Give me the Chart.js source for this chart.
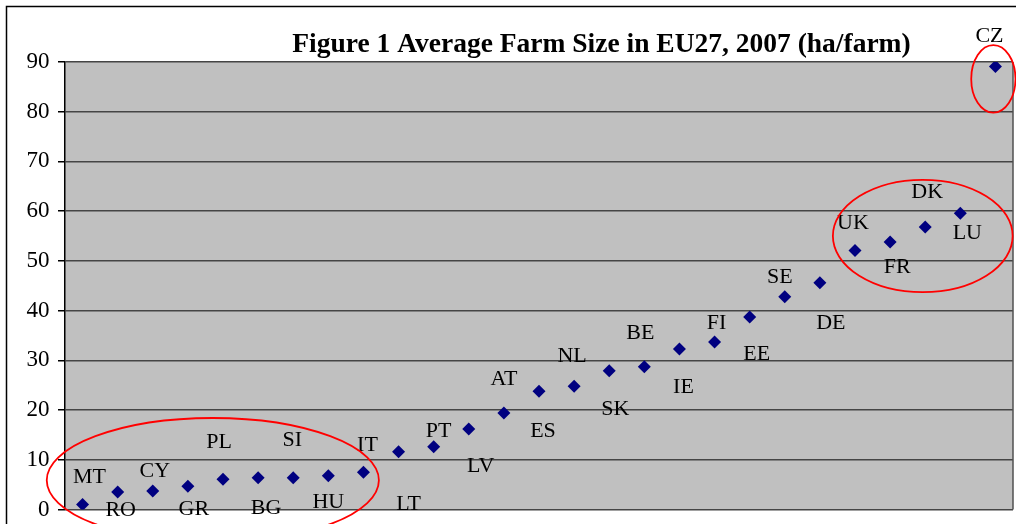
<!DOCTYPE html>
<html>
<head>
<meta charset="utf-8">
<script src="https://cdn.jsdelivr.net/npm/chart.js@4.4.1/dist/chart.umd.min.js"></script>
<style>
    html, body { margin: 0; padding: 0; background: #fff; }
    #wrap { width: 1016px; height: 524px; position: relative; }
</style>
</head>
<body>
<div id="wrap"><canvas id="myChart"></canvas></div>
<script>
// country codes, sorted by average farm size
const countries = ['MT', 'RO', 'CY', 'GR', 'PL', 'BG', 'SI', 'HU', 'IT', 'LT', 'PT', 'LV', 'AT', 'ES',
    'NL', 'SK', 'BE', 'IE', 'FI', 'EE', 'SE', 'DE', 'UK', 'FR', 'DK', 'LU', 'CZ'];
// ha per farm, 2007
const farmSize = [1.0, 3.5, 3.7, 4.7, 6.1, 6.4, 6.4, 6.8, 7.5, 11.6, 12.6, 16.2, 19.4, 23.8,
    24.8, 27.9, 28.7, 32.3, 33.7, 38.7, 42.8, 45.6, 52.1, 53.8, 56.8, 59.6, 89.1];

const titleText = 'Figure 1 Average Farm Size in EU27, 2007 (ha/farm)';

// where each country label sits relative to its point (px)
const labelOffsets = [
    [7, -27], [3, 18], [2, -20], [6, 23], [-4, -37], [8, 31], [-1, -37], [0, 27], [4, -27],
    [10, 52], [5, -16], [12, 37], [0, -34], [4, 40], [-2, -30], [6, 38], [-4, -34], [4, 38],
    [2, -19], [7, 37], [-5, -19], [11, 40], [-2, -27], [7, 25], [2, -35], [7, 20], [-6, -30]
];

// red highlight ellipses, in data units: [centre index, centre value, radius in index, radius in value]
const highlightGroups = [
    [3.71, 5.9, 4.73, 12.5],
    [23.93, 55.0, 2.56, 11.3],
    [25.94, 86.6, 0.63, 6.8]
];

const serif = '"Liberation Serif", "Times New Roman", serif';

const decorPlugin = {
    id: 'decor',
    beforeDraw(chart) {
        const { ctx, chartArea } = chart;
        ctx.save();
        // grey plot background
        ctx.fillStyle = '#c0c0c0';
        ctx.fillRect(chartArea.left, chartArea.top, chartArea.right - chartArea.left, chartArea.bottom - chartArea.top);
        // outer frame
        ctx.strokeStyle = '#000';
        ctx.lineWidth = 1.5;
        ctx.beginPath();
        ctx.moveTo(1016, 6.5);
        ctx.lineTo(6.5, 6.5);
        ctx.lineTo(6.5, 524);
        ctx.stroke();
        ctx.restore();
    },
    afterDatasetsDraw(chart) {
        const { ctx, chartArea } = chart;
        const meta = chart.getDatasetMeta(0);
        ctx.save();
        // right edge of plot
        ctx.strokeStyle = '#505050';
        ctx.lineWidth = 1.5;
        ctx.beginPath();
        ctx.moveTo(chartArea.right, chartArea.top);
        ctx.lineTo(chartArea.right, chartArea.bottom);
        ctx.stroke();

        // country labels
        ctx.fillStyle = '#000';
        ctx.font = '22px ' + serif;
        ctx.textAlign = 'center';
        ctx.textBaseline = 'middle';
        meta.data.forEach((pt, i) => {
            const off = labelOffsets[i];
            ctx.fillText(countries[i], pt.x + off[0], pt.y + off[1]);
        });

        // title
        ctx.font = 'bold 27.5px ' + serif;
        ctx.textBaseline = 'alphabetic';
        ctx.fillText(titleText, 601.5, 51.7);

        // ellipses
        const xs = chart.scales.x, ys = chart.scales.y;
        ctx.strokeStyle = '#ff0000';
        ctx.lineWidth = 1.8;
        highlightGroups.forEach(g => {
            const cx = xs.getPixelForValue(g[0]);
            const cy = ys.getPixelForValue(g[1]);
            const rx = Math.abs(xs.getPixelForValue(g[0] + g[2]) - cx);
            const ry = Math.abs(ys.getPixelForValue(g[1] + g[3]) - cy);
            ctx.beginPath();
            ctx.ellipse(cx, cy, rx, ry, 0, 0, Math.PI * 2);
            ctx.stroke();
        });
        ctx.restore();
    }
};

const ctx = document.getElementById('myChart');
const myChart = new Chart(ctx, {
    type: 'line',
    data: {
        labels: countries,
        datasets: [{
            data: farmSize,
            showLine: false,
            pointStyle: 'rectRot',
            pointRadius: 6.5,
            backgroundColor: '#000080',
            borderColor: '#000080',
            borderWidth: 0
        }]
    },
    options: {
        responsive: true,
        maintainAspectRatio: false,
        animation: false,
        layout: {
            autoPadding: false,
            padding: { top: 62, right: 3, bottom: 14.5, left: 0 }
        },
        plugins: {
            legend: { display: false },
            title: { display: false },
            tooltip: { enabled: false }
        },
        scales: {
            x: {
                type: 'category',
                offset: true,
                display: false
            },
            y: {
                min: 0,
                max: 90,
                afterFit: (scale) => { scale.width = 65; },
                ticks: {
                    stepSize: 10,
                    color: '#000',
                    padding: 8.5,
                    font: { family: serif, size: 23, lineHeight: 0.5 }
                },
                grid: {
                    color: '#454545',
                    lineWidth: 1.5,
                    tickLength: 7,
                    tickColor: '#000'
                },
                border: { color: '#000', width: 1.5 }
            }
        }
    },
    plugins: [decorPlugin]
});
</script>
</body>
</html>
